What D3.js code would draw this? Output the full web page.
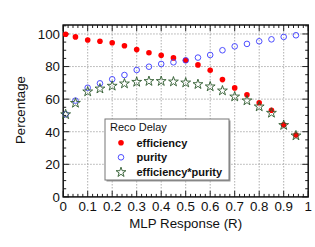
<!DOCTYPE html>
<html><head><meta charset="utf-8">
<script src="https://cdn.jsdelivr.net/npm/d3@7"></script>
<style>
body{margin:0;background:#fff;}
svg{display:block;font-family:"Liberation Sans",Arial,Helvetica,sans-serif;}
</style></head>
<body><svg id="c" width="315" height="247"></svg>
<script>
const xVals = [0.01,0.05,0.10,0.15,0.20,0.25,0.30,0.35,0.40,0.45,0.50,0.55,0.60,0.65,0.70,0.75,0.80,0.85,0.90,0.95];
const efficiency = [99.8,98.2,96.3,95.5,94.6,92.8,90.4,88.5,86.9,85.3,83.9,81.0,77.7,72.0,66.9,62.7,57.8,53.2,44.3,38.0];
const purity = [50.7,59.1,67.0,69.7,72.2,74.8,77.9,79.9,81.6,82.6,83.8,85.5,87.1,90.0,92.4,93.9,95.5,96.7,98.2,99.2];
const effPurity = [50.6,57.6,64.6,66.4,68.1,69.5,70.5,71.0,71.0,70.7,70.1,69.1,67.7,65.2,61.5,59.1,55.4,51.5,44.0,37.6];
const xTicks = [0,0.1,0.2,0.3,0.4,0.5,0.6,0.7,0.8,0.9,1];
const xTickLabels = ["0","0.1","0.2","0.3","0.4","0.5","0.6","0.7","0.8","0.9","1"];
const yTicks = [0,20,40,60,80,100];
const legendTitle = "Reco Delay";
const seriesNames = ["efficiency","purity","efficiency*purity"];
const xTitle = "MLP Response (R)";
const yTitle = "Percentage";

const svg = d3.select("#c");
const L=63.2, R=308.2, T=25, B=196.9;
const x = d3.scaleLinear().domain([0,1]).range([L,R]);
const y = d3.scaleLinear().domain([0,105.5]).range([B,T]);

// grid
const grid = svg.append("g").attr("stroke","#999").attr("stroke-width",0.8).attr("stroke-dasharray","1.5,1.5");
xTicks.slice(1,-1).forEach(v=>grid.append("line").attr("x1",x(v)).attr("x2",x(v)).attr("y1",T).attr("y2",B));
yTicks.slice(1).forEach(v=>grid.append("line").attr("x1",L).attr("x2",R).attr("y1",y(v)).attr("y2",y(v)));

// ticks
const tk = svg.append("g").attr("stroke","#222").attr("stroke-width",1);
const xMinor = d3.range(0,1.0001,0.02);
xMinor.forEach(v=>{
  const major = Math.abs(v*10-Math.round(v*10))<1e-6;
  const len = major?6:3;
  tk.append("line").attr("x1",x(v)).attr("x2",x(v)).attr("y1",B).attr("y2",B-len);
  tk.append("line").attr("x1",x(v)).attr("x2",x(v)).attr("y1",T).attr("y2",T+len);
});
d3.range(0,105.01,5).forEach(v=>{
  const major = v%20===0;
  const len = major?6:3;
  tk.append("line").attr("x1",L).attr("x2",L+len).attr("y1",y(v)).attr("y2",y(v));
  tk.append("line").attr("x1",R).attr("x2",R-len).attr("y1",y(v)).attr("y2",y(v));
});

// frame
svg.append("rect").attr("x",L).attr("y",T).attr("width",R-L).attr("height",B-T)
  .attr("fill","none").attr("stroke","#111").attr("stroke-width",1.5);

// tick labels
svg.append("g").selectAll("text").data(xTicks).join("text")
  .attr("x",d=>x(d)).attr("y",211).attr("text-anchor","middle").attr("font-size",13.3).attr("fill","#111")
  .text((d,i)=>xTickLabels[i]);
svg.append("g").selectAll("text").data(yTicks).join("text")
  .attr("x",60).attr("y",d=>y(d)+4.8).attr("text-anchor","end").attr("font-size",13.3).attr("fill","#111")
  .text(d=>d);

// titles
svg.append("text").attr("x",(L+R)/2).attr("y",228).attr("text-anchor","middle").attr("font-size",13.3).attr("fill","#111").text(xTitle);
svg.append("text").attr("transform","translate(24.5,110) rotate(-90)").attr("text-anchor","middle").attr("font-size",13.3).attr("fill","#111").text(yTitle);

// markers
const star = d3.symbol().type(d3.symbolStar).size(30)();
function drawEff(g,cx,cy){ g.append("circle").attr("cx",cx).attr("cy",cy).attr("r",2.8).attr("fill","#ff0000"); }
function drawPur(g,cx,cy){ g.append("circle").attr("cx",cx).attr("cy",cy).attr("r",2.8).attr("fill","none").attr("stroke","#3b3bff").attr("stroke-width",0.9); }
function drawStar(g,cx,cy){ g.append("path").attr("d",star).attr("transform",`translate(${cx},${cy})`).attr("fill","none").attr("stroke","#2e5a2e").attr("stroke-width",0.9); }
const pts = svg.append("g");
xVals.forEach((v,i)=>drawEff(pts,x(v),y(efficiency[i])));
xVals.forEach((v,i)=>drawPur(pts,x(v),y(purity[i])));
xVals.forEach((v,i)=>drawStar(pts,x(v),y(effPurity[i])));

// legend
const lg = svg.append("g");
lg.append("rect").attr("x",106.5).attr("y",120.5).attr("width",124).attr("height",61).attr("fill","#999");
lg.append("rect").attr("x",105).attr("y",119).attr("width",124).attr("height",61).attr("fill","#fff").attr("stroke","#777").attr("stroke-width",1);
lg.append("text").attr("x",110).attr("y",130.7).attr("font-size",11).attr("fill","#111").text(legendTitle);
const ly = [142.7,157.3,172.3];
drawEff(lg,121,ly[0]); drawPur(lg,121,ly[1]); drawStar(lg,121,ly[2]);
seriesNames.forEach((s,i)=>lg.append("text").attr("x",136.5).attr("y",ly[i]+4).attr("font-size",11).attr("font-weight","bold").attr("fill","#111").text(s));
</script></body></html>
